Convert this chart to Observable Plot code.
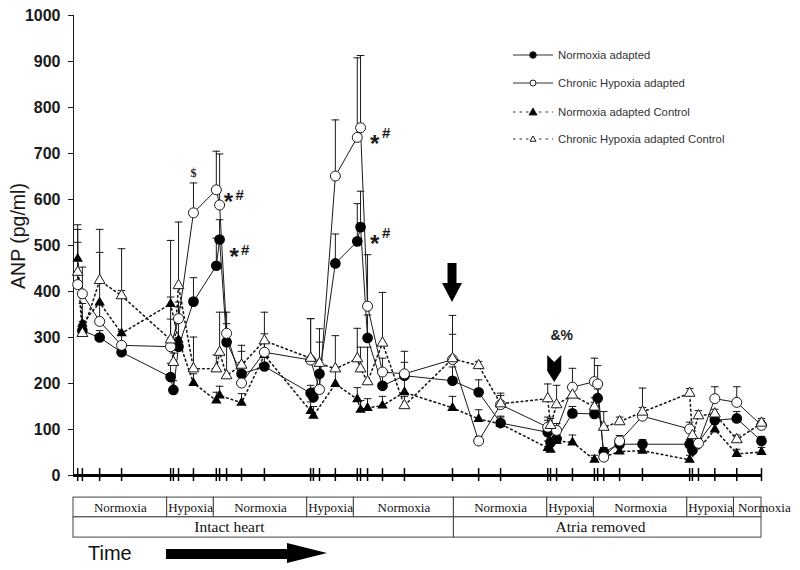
<!DOCTYPE html>
<html><head><meta charset="utf-8">
<script src="https://cdn.jsdelivr.net/npm/d3@7"></script>
<script src="https://cdn.jsdelivr.net/npm/@observablehq/plot@0.6"></script>
<style>
html,body{margin:0;padding:0;background:#fff;}
#chart{width:800px;height:570px;}
</style></head>
<body><div id="chart"></div>
<script>
// ---- Data (sampling times in minutes, ANP in pg/ml) ----
const times = [0.9, 1.9, 5.6, 10.3, 20.8, 21.4, 22.5, 25.7, 30.6, 31.3, 32.8, 36.0, 40.9, 50.8, 51.4, 52.7, 56.1, 60.8, 61.5, 63.0, 66.2, 70.9, 81.2, 86.8, 91.5, 101.6, 102.2, 103.5, 106.9, 111.6, 112.3, 113.6, 117.0, 121.9, 132.0, 132.6, 133.9, 137.4, 142.1, 147.4];

const normoxiaAdapted = [null, 315, 300, 268, 214, 186, 280, 378, 456, 513, 290, 221, 237, 179, 170, 221, 461, 509, 540, 299, 195, 217, 206, 181, 114, 94, 72, 80, 135, 134, 168, 51, 68, 68, 68, 55, null, 120, 124, 75];
const normoxiaAdaptedErr = [null, 20, 15, 15, 30, 20, 20, 52, 60, 43, 40, 25, 20, 17, 20, 30, 64, 82, 78, 50, 25, 29, 30, 27, 15, 33, 10, 10, 15, 25, 20, 10, 10, 10, 10, 10, null, 15, 15, 10];

const hypoxiaAdapted = [415, 395, 335, 283, 280, null, 341, 571, 621, 588, 309, 201, 268, 251, null, 187, 651, 735, 756, 368, 225, 221, 252, 75, 154, 105, null, 98, 192, 204, 199, 40, 75, 129, 101, null, 70, 167, 159, 109];
const hypoxiaAdaptedErr = [92, 58, 40, 30, 60, null, 25, 65, 84, 111, 46, 82, 40, 90, null, 103, 122, 173, 157, 112, 30, 49, 55, 10, 20, 15, null, 15, 41, 51, 40, 10, 12, 61, 15, null, 10, 26, 34, 10];

const normoxiaControl = [471, 330, 376, 309, 373, null, 295, 201, 163, 174, null, 158, 262, 140, 130, null, 199, 166, 143, 147, 152, 181, 147, 123, 112, 60, 56, 75, 72, 34, null, null, 52, 54, 34, null, null, 100, 47, 51];
const normoxiaControlErr = [64, 44, 109, 93, 15, null, 82, 20, 18, 20, null, 20, 30, 20, 20, null, 30, 25, 20, 20, 20, 30, 25, 20, 15, 15, 15, 15, 16, 10, null, null, 10, 10, 10, null, null, 15, 10, 10];

const hypoxiaControl = [442, 309, 424, 391, 295, 246, 413, 232, 232, 268, 217, 240, 293, 255, null, 244, 232, 254, 232, 204, 288, 152, 254, 239, 156, 167, 109, 154, 175, 149, null, 105, 117, 138, 179, 87, 130, 134, 78, 114];
const hypoxiaControlErr = [103, 20, 111, 102, 216, 20, 138, 69, 30, 87, 70, 30, 62, 86, null, 75, 72, 66, 47, 75, 110, 20, 94, 9, 23, 32, 15, 42, 20, 20, null, 34, 10, 10, 10, 10, 11, 10, 10, 10];

const seriesNames = ["Normoxia adapted", "Chronic Hypoxia adapted", "Normoxia adapted Control", "Chronic Hypoxia adapted Control"];
const yTicks = [0, 100, 200, 300, 400, 500, 600, 700, 800, 900, 1000];

// protocol table
const periodLabels = ["Normoxia", "Hypoxia", "Normoxia", "Hypoxia", "Normoxia", "Normoxia", "Hypoxia", "Normoxia", "Hypoxia", "Normoxia"];
const periodStarts = [0, 20.07, 30.07, 50.07, 60.07, 81.5, 101.5, 111.5, 131.5, 141.5];
const periodEnds   = [20.07, 30.07, 50.07, 60.07, 81.5, 101.5, 111.5, 131.5, 141.5, 147.4];
const stageLabels = ["Intact heart", "Atria removed"];
const stageStarts = [0, 81.5];
const stageEnds = [81.5, 147.4];
const stageLabelTimes = [33.4, 112.9];

// annotations
const noteTexts = ["$", "*", "#", "*", "#", "*", "#", "*", "#", "&%"];
const noteTimes = [25.7, 33.2, 35.6, 34.4, 36.8, 64.5, 67.0, 64.5, 67.0, 104.6];
const noteValues = [657, 609, 609, 489, 489, 735, 745, 517, 527, 304];

// event arrows (time, top value, bottom value)
const arrowTimes = [81.2, 103.1];
const arrowTops = [461, 261];
const arrowBottoms = [376, 202];

// ---- build ----
const xMax = 147.4;
function rowsOf(vals, errs, name) {
  return times.map((t, i) => ({t, v: vals[i], e: errs[i], s: name})).filter(d => d.v != null);
}
const N = rowsOf(normoxiaAdapted, normoxiaAdaptedErr, seriesNames[0]);
const H = rowsOf(hypoxiaAdapted, hypoxiaAdaptedErr, seriesNames[1]);
const NC = rowsOf(normoxiaControl, normoxiaControlErr, seriesNames[2]);
const HC = rowsOf(hypoxiaControl, hypoxiaControlErr, seriesNames[3]);
const allRows = [...N, ...H, ...NC, ...HC];
const errRows = allRows.filter(d => d.e != null);

const periods = periodLabels.map((label, i) => ({label, start: periodStarts[i], end: periodEnds[i], last: i === periodLabels.length - 1}));
const stages = stageLabels.map((label, i) => ({label, start: stageStarts[i], end: stageEnds[i], mid: stageLabelTimes[i]}));
const notes = noteTexts.map((text, i) => ({text, t: noteTimes[i], v: noteValues[i]}));

const capSymbol = {draw(ctx, size) { const r = Math.sqrt(size / Math.PI); ctx.moveTo(-r, 0); ctx.lineTo(r, 0); }};
const ink = "#1a1a1a";
const dotted = "1.6,3.2";

const plot = Plot.plot({
  width: 800, height: 570,
  marginLeft: 73, marginRight: 39, marginTop: 15, marginBottom: 95,
  x: {domain: [0, xMax], axis: null},
  y: {domain: [0, 1000], axis: null},
  style: {fontFamily: "'Liberation Sans', Arial, sans-serif", background: "white", color: ink, overflow: "visible"},
  marks: [
    Plot.axisY({ticks: yTicks, tickSize: 5, tickPadding: 8, fontSize: 16, fontWeight: "bold", label: null, tickFormat: d => String(d)}),
    Plot.ruleX([0], {y1: 0, y2: 1000, stroke: ink, strokeWidth: 1}),
    // protocol table
    Plot.rect(periods, {x1: "start", x2: "end", y1: -48, y2: -91, fill: "white", stroke: "#444", strokeWidth: 1}),
    Plot.rect(stages, {x1: "start", x2: "end", y1: -91, y2: -135, fill: "white", stroke: "#444", strokeWidth: 1}),
    Plot.text(periods.filter(d => !d.last), {x: d => (d.start + d.end) / 2, y: -69.5, text: "label", fontFamily: "'Liberation Serif', 'Times New Roman', serif", fontSize: 13, fill: "#111"}),
    Plot.text(periods.filter(d => d.last), {x: "start", y: -69.5, text: "label", textAnchor: "start", dx: 4, fontFamily: "'Liberation Serif', 'Times New Roman', serif", fontSize: 13, fill: "#111"}),
    Plot.text(stages, {x: "mid", y: -113, text: "label", fontFamily: "'Liberation Serif', 'Times New Roman', serif", fontSize: 15.5, fill: "#111"}),
    // lines
    Plot.line(NC, {x: "t", y: "v", stroke: ink, strokeWidth: 1.6, strokeDasharray: dotted}),
    Plot.line(HC, {x: "t", y: "v", stroke: ink, strokeWidth: 1.6, strokeDasharray: dotted}),
    Plot.line(N, {x: "t", y: "v", stroke: ink, strokeWidth: 1}),
    Plot.line(H, {x: "t", y: "v", stroke: ink, strokeWidth: 1}),
    // error bars
    Plot.ruleX(errRows, {x: "t", y1: "v", y2: d => d.v + d.e, stroke: ink, strokeWidth: 1}),
    Plot.dot(errRows, {x: "t", y: d => d.v + d.e, symbol: capSymbol, r: 3.8, stroke: ink, fill: "none", strokeWidth: 1}),
    // points
    Plot.dot(N, {x: "t", y: "v", symbol: "circle", r: 4.6, fill: "#000", stroke: "#000"}),
    Plot.dot(NC, {x: "t", y: "v", symbol: "triangle", r: 2.9, fill: "#000", stroke: "#000"}),
    Plot.dot(H, {x: "t", y: "v", symbol: "circle", r: 5, fill: "white", stroke: ink, strokeWidth: 1}),
    Plot.dot(HC, {x: "t", y: "v", symbol: "triangle", r: 4, fill: "white", stroke: ink, strokeWidth: 1}),
    // x axis
    Plot.ruleY([0], {stroke: "#000", strokeWidth: 3}),
    Plot.ruleX(times, {y1: -13, y2: 15, stroke: "#000", strokeWidth: 1.5}),
    // annotations
    Plot.text(notes.filter(d => d.text === "$"), {x: "t", y: "v", text: "text", fontFamily: "'Liberation Serif', serif", fontWeight: "bold", fontSize: 12}),
    Plot.text(notes.filter(d => d.text === "*"), {x: "t", y: "v", text: "text", fontWeight: "bold", fontSize: 24, dy: 7}),
    Plot.text(notes.filter(d => d.text === "#"), {x: "t", y: "v", text: "text", fontWeight: "bold", fontSize: 15}),
    Plot.text(notes.filter(d => d.text === "&%"), {x: "t", y: "v", text: "text", fontWeight: "bold", fontSize: 14})
  ]
});

document.getElementById("chart").appendChild(plot);

// ---- overlay: arrows, legend, labels ----
const svg = d3.select(plot);
const xs = plot.scale("x"), ys = plot.scale("y");

// block arrow (atria removal)
{
  const x = xs.apply(arrowTimes[0]), yt = ys.apply(arrowTops[0]), yb = ys.apply(arrowBottoms[0]);
  const yh = yb - 19;
  svg.append("path").attr("fill", "#000")
    .attr("d", `M${x-4.5},${yt}H${x+4.5}V${yh}H${x+10}L${x},${yb}L${x-10},${yh}H${x-4.5}Z`);
}
// notched arrow
{
  const x = xs.apply(arrowTimes[1]), yt = ys.apply(arrowTops[1]), yb = ys.apply(arrowBottoms[1]);
  svg.append("path").attr("fill", "#000")
    .attr("d", `M${x-7},${yt}L${x},${yt+7}L${x+7},${yt}V${yb-11}L${x},${yb}L${x-7},${yb-11}Z`);
}

// y label
svg.append("text").attr("transform", "translate(25,236) rotate(-90)")
  .attr("text-anchor", "middle").attr("font-size", 19.5).attr("fill", ink)
  .attr("font-family", "'Liberation Sans', Arial, sans-serif").text("ANP (pg/ml)");

// Time arrow
svg.append("text").attr("x", 88).attr("y", 560).attr("text-anchor", "start").attr("font-size", 20).attr("fill", "#111")
  .attr("font-family", "'Liberation Sans', Arial, sans-serif").text("Time");
svg.append("path").attr("fill", "#000").attr("d", "M166,549H287V543L327,553L287,563V559H166Z");

// legend
const legY = [55, 83, 112, 139];
const lg = svg.append("g").attr("font-family", "'Liberation Sans', Arial, sans-serif").attr("text-anchor", "start");
seriesNames.forEach((name, i) => {
  const y = legY[i], isCtrl = i >= 2, filled = i % 2 === 0;
  lg.append("line").attr("x1", 513).attr("x2", 553).attr("y1", y).attr("y2", y)
    .attr("stroke", "#333").attr("stroke-width", 1).attr("stroke-dasharray", isCtrl ? "2.5,4" : null);
  if (!isCtrl) {
    lg.append("circle").attr("cx", 533).attr("cy", y).attr("r", filled ? 3.3 : 3)
      .attr("fill", filled ? "#000" : "#fff").attr("stroke", "#222");
  } else {
    const s = filled ? 4 : 3;
    lg.append("path").attr("d", `M533,${y - s}L${533 + s},${y + s * 0.75}L${533 - s},${y + s * 0.75}Z`)
      .attr("fill", filled ? "#000" : "#fff").attr("stroke", "#222");
  }
  lg.append("text").attr("x", 558).attr("y", y).attr("dy", "0.35em").attr("text-anchor", "start")
    .attr("font-size", 11.3).attr("fill", "#333").text(name);
});
</script>
</body></html>
